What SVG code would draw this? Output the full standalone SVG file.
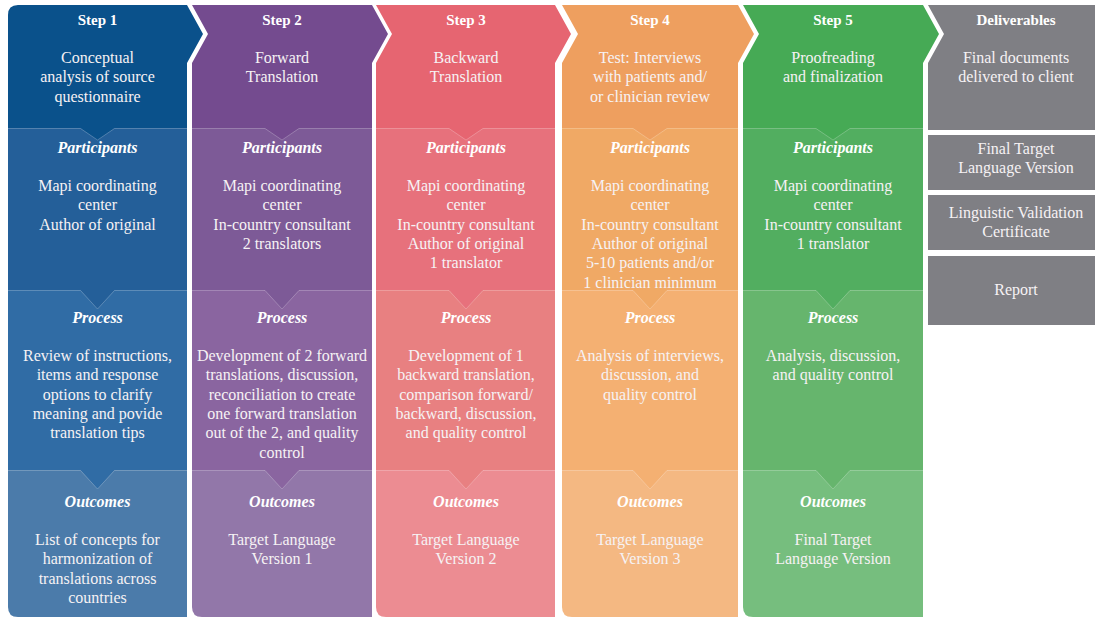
<svg xmlns="http://www.w3.org/2000/svg" width="1095" height="618" viewBox="0 0 1095 618">
  <style>
    text { font-family: "Liberation Serif", "Times New Roman", serif; fill: #ffffff; text-anchor: middle; }
    .step { font-size: 15px; font-weight: bold; }
    .sub { font-size: 16px; font-weight: bold; font-style: italic; }
    .body { font-size: 16px; fill: #f6f2f4; }
    .seam { fill: none; stroke: #ffffff; stroke-opacity: 0.22; stroke-width: 1; }
  </style>
  <rect width="1095" height="618" fill="#ffffff"/>

  <!-- Step 1 -->
  <g id="step1">
    <path d="M8,15 Q8,5 18,5 H187 L203,34 L187,63 V128 H8 Z" fill="#0a518b"/>
    <rect x="8" y="128" width="179" height="162" fill="#245f99"/>
    <rect x="8" y="290" width="179" height="180" fill="#306ca5"/>
    <path d="M8,470 H187 V617 H18 Q8,617 8,607 Z" fill="#4b7baa"/>
    <polygon points="80.5,128 97.5,140 114.5,128" fill="#0a518b"/>
    <polygon points="80.5,290 97.5,309 114.5,290" fill="#245f99"/>
    <polygon points="80.5,470 97.5,489 114.5,470" fill="#306ca5"/>
    <polyline class="seam" points="8,128.5 80.5,128.5 97.5,140 114.5,128.5 187,128.5"/>
    <polyline class="seam" points="8,290.5 80.5,290.5 97.5,309 114.5,290.5 187,290.5"/>
    <polyline class="seam" points="8,470.5 80.5,470.5 97.5,489 114.5,470.5 187,470.5"/>
    <text class="step" x="97.5" y="25">Step 1</text>
    <text class="body" x="97.5" y="63">Conceptual<tspan x="97.5" dy="19.3">analysis of source</tspan><tspan x="97.5" dy="19.3">questionnaire</tspan></text>
    <text class="sub" x="97.5" y="153">Participants</text>
    <text class="body" x="97.5" y="191">Mapi coordinating<tspan x="97.5" dy="19.3">center</tspan><tspan x="97.5" dy="19.3">Author of original</tspan></text>
    <text class="sub" x="97.5" y="323">Process</text>
    <text class="body" x="97.5" y="361">Review of instructions,<tspan x="97.5" dy="19.3">items and response</tspan><tspan x="97.5" dy="19.3">options to clarify</tspan><tspan x="97.5" dy="19.3">meaning and povide</tspan><tspan x="97.5" dy="19.3">translation tips</tspan></text>
    <text class="sub" x="97.5" y="507">Outcomes</text>
    <text class="body" x="97.5" y="545">List of concepts for<tspan x="97.5" dy="19.3">harmonization of</tspan><tspan x="97.5" dy="19.3">translations across</tspan><tspan x="97.5" dy="19.3">countries</tspan></text>
  </g>

  <!-- Step 2 -->
  <g id="step2">
    <path d="M192,5 H372 L388,34 L372,63 V128 H192 V63 L208,34 Z" fill="#744b8f"/>
    <rect x="192" y="128" width="180" height="162" fill="#7d5a97"/>
    <rect x="192" y="290" width="180" height="180" fill="#8a65a0"/>
    <path d="M192,470 H372 V617 H202 Q192,617 192,607 Z" fill="#9277a9"/>
    <polygon points="265,128 282,140 299,128" fill="#744b8f"/>
    <polygon points="265,290 282,309 299,290" fill="#7d5a97"/>
    <polygon points="265,470 282,489 299,470" fill="#8a65a0"/>
    <polyline class="seam" points="192,128.5 265,128.5 282,140 299,128.5 372,128.5"/>
    <polyline class="seam" points="192,290.5 265,290.5 282,309 299,290.5 372,290.5"/>
    <polyline class="seam" points="192,470.5 265,470.5 282,489 299,470.5 372,470.5"/>
    <text class="step" x="282" y="25">Step 2</text>
    <text class="body" x="282" y="63">Forward<tspan x="282" dy="19.3">Translation</tspan></text>
    <text class="sub" x="282" y="153">Participants</text>
    <text class="body" x="282" y="191">Mapi coordinating<tspan x="282" dy="19.3">center</tspan><tspan x="282" dy="19.3">In-country consultant</tspan><tspan x="282" dy="19.3">2 translators</tspan></text>
    <text class="sub" x="282" y="323">Process</text>
    <text class="body" x="282" y="361">Development of 2 forward<tspan x="282" dy="19.3">translations, discussion,</tspan><tspan x="282" dy="19.3">reconciliation to create</tspan><tspan x="282" dy="19.3">one forward translation</tspan><tspan x="282" dy="19.3">out of the 2, and quality</tspan><tspan x="282" dy="19.3">control</tspan></text>
    <text class="sub" x="282" y="507">Outcomes</text>
    <text class="body" x="282" y="545">Target Language<tspan x="282" dy="19.3">Version 1</tspan></text>
  </g>

  <!-- Step 3 -->
  <g id="step3">
    <path d="M376,5 H555 L571,34 L555,63 V128 H376 V63 L392,34 Z" fill="#e66571"/>
    <rect x="376" y="128" width="179" height="162" fill="#e7717c"/>
    <rect x="376" y="290" width="179" height="180" fill="#e88081"/>
    <path d="M376,470 H555 V617 H386 Q376,617 376,607 Z" fill="#ec8c92"/>
    <polygon points="449,128 466,140 483,128" fill="#e66571"/>
    <polygon points="449,290 466,309 483,290" fill="#e7717c"/>
    <polygon points="449,470 466,489 483,470" fill="#e88081"/>
    <polyline class="seam" points="376,128.5 449,128.5 466,140 483,128.5 555,128.5"/>
    <polyline class="seam" points="376,290.5 449,290.5 466,309 483,290.5 555,290.5"/>
    <polyline class="seam" points="376,470.5 449,470.5 466,489 483,470.5 555,470.5"/>
    <text class="step" x="466" y="25">Step 3</text>
    <text class="body" x="466" y="63">Backward<tspan x="466" dy="19.3">Translation</tspan></text>
    <text class="sub" x="466" y="153">Participants</text>
    <text class="body" x="466" y="191">Mapi coordinating<tspan x="466" dy="19.3">center</tspan><tspan x="466" dy="19.3">In-country consultant</tspan><tspan x="466" dy="19.3">Author of original</tspan><tspan x="466" dy="19.3">1 translator</tspan></text>
    <text class="sub" x="466" y="323">Process</text>
    <text class="body" x="466" y="361">Development of 1<tspan x="466" dy="19.3">backward translation,</tspan><tspan x="466" dy="19.3">comparison forward/</tspan><tspan x="466" dy="19.3">backward, discussion,</tspan><tspan x="466" dy="19.3">and quality control</tspan></text>
    <text class="sub" x="466" y="507">Outcomes</text>
    <text class="body" x="466" y="545">Target Language<tspan x="466" dy="19.3">Version 2</tspan></text>
  </g>

  <!-- Step 4 -->
  <g id="step4">
    <path d="M562,5 H738 L754,34 L738,63 V128 H562 V63 L578,34 Z" fill="#ee9f5f"/>
    <rect x="562" y="128" width="176" height="162" fill="#f0a965"/>
    <rect x="562" y="290" width="176" height="180" fill="#f4b072"/>
    <path d="M562,470 H738 V617 H572 Q562,617 562,607 Z" fill="#f4b882"/>
    <polygon points="633,128 650,140 667,128" fill="#ee9f5f"/>
    <polygon points="633,290 650,309 667,290" fill="#f0a965"/>
    <polygon points="633,470 650,489 667,470" fill="#f4b072"/>
    <polyline class="seam" points="562,128.5 633,128.5 650,140 667,128.5 738,128.5"/>
    <polyline class="seam" points="562,290.5 633,290.5 650,309 667,290.5 738,290.5"/>
    <polyline class="seam" points="562,470.5 633,470.5 650,489 667,470.5 738,470.5"/>
    <text class="step" x="650" y="25">Step 4</text>
    <text class="body" x="650" y="63">Test: Interviews<tspan x="650" dy="19.3">with patients and/</tspan><tspan x="650" dy="19.3">or clinician review</tspan></text>
    <text class="sub" x="650" y="153">Participants</text>
    <text class="body" x="650" y="191">Mapi coordinating<tspan x="650" dy="19.3">center</tspan><tspan x="650" dy="19.3">In-country consultant</tspan><tspan x="650" dy="19.3">Author of original</tspan><tspan x="650" dy="19.3">5-10 patients and/or</tspan><tspan x="650" dy="19.3">1 clinician minimum</tspan></text>
    <text class="sub" x="650" y="323">Process</text>
    <text class="body" x="650" y="361">Analysis of interviews,<tspan x="650" dy="19.3">discussion, and</tspan><tspan x="650" dy="19.3">quality control</tspan></text>
    <text class="sub" x="650" y="507">Outcomes</text>
    <text class="body" x="650" y="545">Target Language<tspan x="650" dy="19.3">Version 3</tspan></text>
  </g>

  <!-- Step 5 -->
  <g id="step5">
    <path d="M743,5 H923 L939,34 L923,63 V128 H743 V63 L759,34 Z" fill="#46aa55"/>
    <rect x="743" y="128" width="180" height="162" fill="#52ae60"/>
    <rect x="743" y="290" width="180" height="180" fill="#66b56d"/>
    <path d="M743,470 H923 V617 H753 Q743,617 743,607 Z" fill="#76be7e"/>
    <polygon points="816,128 833,140 850,128" fill="#46aa55"/>
    <polygon points="816,290 833,309 850,290" fill="#52ae60"/>
    <polygon points="816,470 833,489 850,470" fill="#66b56d"/>
    <polyline class="seam" points="743,128.5 816,128.5 833,140 850,128.5 923,128.5"/>
    <polyline class="seam" points="743,290.5 816,290.5 833,309 850,290.5 923,290.5"/>
    <polyline class="seam" points="743,470.5 816,470.5 833,489 850,470.5 923,470.5"/>
    <text class="step" x="833" y="25">Step 5</text>
    <text class="body" x="833" y="63">Proofreading<tspan x="833" dy="19.3">and finalization</tspan></text>
    <text class="sub" x="833" y="153">Participants</text>
    <text class="body" x="833" y="191">Mapi coordinating<tspan x="833" dy="19.3">center</tspan><tspan x="833" dy="19.3">In-country consultant</tspan><tspan x="833" dy="19.3">1 translator</tspan></text>
    <text class="sub" x="833" y="323">Process</text>
    <text class="body" x="833" y="361">Analysis, discussion,<tspan x="833" dy="19.3">and quality control</tspan></text>
    <text class="sub" x="833" y="507">Outcomes</text>
    <text class="body" x="833" y="545">Final Target<tspan x="833" dy="19.3">Language Version</tspan></text>
  </g>

  <!-- Deliverables -->
  <g id="deliverables">
    <path d="M928,5 H1100 V130 H928 V63 L944,34 Z" fill="#7f7f84"/>
    <rect x="928" y="135" width="172" height="55" fill="#7f7f84"/>
    <rect x="928" y="195" width="172" height="55" fill="#7f7f84"/>
    <rect x="928" y="256" width="172" height="69" fill="#7f7f84"/>
    <text class="step" x="1016" y="25">Deliverables</text>
    <text class="body" x="1016" y="63">Final documents<tspan x="1016" dy="19.3">delivered to client</tspan></text>
    <text class="body" x="1016" y="154">Final Target<tspan x="1016" dy="19.3">Language Version</tspan></text>
    <text class="body" x="1016" y="218">Linguistic Validation<tspan x="1016" dy="19.3">Certificate</tspan></text>
    <text class="body" x="1016" y="295">Report</text>
  </g>

  <!-- no connectors: steps are joined by their chevron edges -->
  <g id="connectors"/>
</svg>
